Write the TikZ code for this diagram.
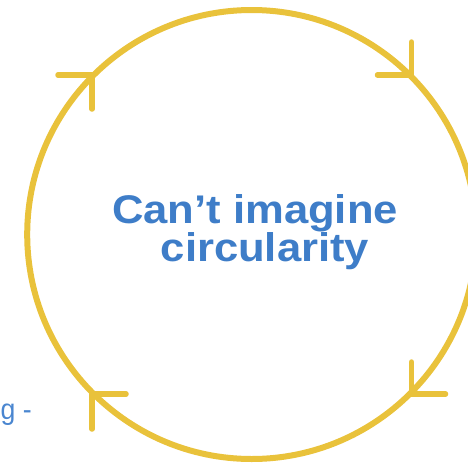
\documentclass[tikz,border=0pt]{standalone}
\usepackage{fontspec}
\setmainfont{Liberation Sans}
\newfontfamily\titlefont[FakeStretch=1.09]{Liberation Sans}
\newfontfamily\sidefont[FakeStretch=0.92]{Liberation Sans}
\definecolor{ringyellow}{RGB}{233,194,59}
\definecolor{titleblue}{RGB}{62,125,200}
\definecolor{sideblue}{RGB}{74,134,208}
\begin{document}
\begin{tikzpicture}[x=1pt,y=-1pt,
  ring/.style={draw=ringyellow,line width=6pt},
  chevron/.style={draw=ringyellow,line width=5.5pt,line cap=round,line join=round},
  titletext/.style={text=titleblue,font=\titlefont\bfseries\fontsize{40}{38.4}\selectfont,inner sep=0pt,anchor=base},
  sidetext/.style={text=sideblue,font=\sidefont\fontsize{29}{32}\selectfont,inner sep=0pt,anchor=base west}]
\useasboundingbox (0,0) rectangle (468,466);
\clip (0,0) rectangle (468,466);
\coordinate (c) at (251.7,234.5);
\draw[ring] (c) circle[radius=224.5];
% arrowheads (clockwise)
\coordinate (tl) at (92,75);
\coordinate (tr) at (411.5,75);
\coordinate (br) at (411.5,394);
\coordinate (bl) at (92,394);
\draw[chevron] ([xshift=-34pt]tl) -- (tl) -- ([yshift=-34pt]tl);
\draw[chevron] ([xshift=-34pt]tr) -- (tr) -- ([yshift=33pt]tr);
\draw[chevron] ([yshift=32pt]br) -- (br) -- ([xshift=34pt]br);
\draw[chevron] ([xshift=34pt]bl) -- (bl) -- ([yshift=-35pt]bl);
% title
\node[titletext] (line1) at (255,223.3) {Can’t imagine};
\node[titletext] (line2) at (265,261.7) {circularity};
% side fragment
\node[sidetext] (side) at (0.5,419) {g -};
\end{tikzpicture}
\end{document}
